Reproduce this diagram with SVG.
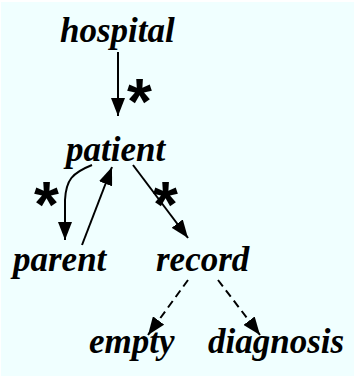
<svg xmlns="http://www.w3.org/2000/svg" width="354" height="376" viewBox="0 0 354 376">
<style>
.lbl{font-family:"Liberation Serif","Times New Roman",serif;font-weight:bold;font-style:italic;font-size:35px;fill:#000}
.star{font-family:"Liberation Sans",Arial,sans-serif;font-weight:bold;font-size:64px;fill:#000}
.edge{fill:none;stroke:#000;stroke-width:2}
.dash{stroke-dasharray:8 5}
</style>
<defs>
<marker id="ah" markerUnits="userSpaceOnUse" markerWidth="18" markerHeight="14" refX="18" refY="7" orient="auto" viewBox="0 0 18 14">
<path d="M0,0 L18,7 L0,14 z" fill="#000"/>
</marker>
</defs>
<rect width="354" height="376" fill="#fff"/>
<rect x="1" y="2" width="353" height="374" fill="#F0FFFF"/>
<g id="connectors">
<path class="edge" d="M118,52 L118,116" marker-end="url(#ah)"/>
<path class="edge" d="M92,165 C72,173 66,180 65,200 L65,240" marker-end="url(#ah)"/>
<path class="edge" d="M82,245 L112,167" marker-end="url(#ah)"/>
<path class="edge" d="M133,165 L188,238" marker-end="url(#ah)"/>
<path class="edge dash" d="M188,280 L148,335" marker-end="url(#ah)"/>
<path class="edge dash" d="M218,280 L260,335" marker-end="url(#ah)"/>
<text class="star" x="127" y="124">*</text>
<text class="star" x="34" y="227">*</text>
<text class="star" x="153" y="227">*</text>
</g>
<g id="hospital"><text class="lbl" x="60" y="42">hospital</text></g>
<g id="patient"><text class="lbl" x="66" y="161">patient</text></g>
<g id="parent"><text class="lbl" x="13" y="271">parent</text></g>
<g id="record"><text class="lbl" x="156" y="271">record</text></g>
<g id="empty"><text class="lbl" x="89" y="353">empty</text></g>
<g id="diagnosis"><text class="lbl" x="208" y="353">diagnosis</text></g>
</svg>
